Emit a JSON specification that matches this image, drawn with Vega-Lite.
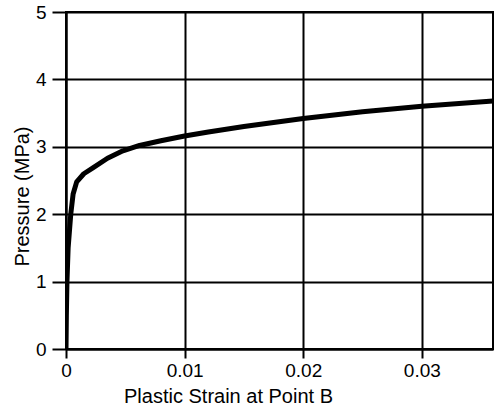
{
  "$schema": "https://vega.github.io/schema/vega-lite/v6.json",
  "width": 427,
  "height": 337,
  "autosize": "none",
  "padding": {"left": 66, "top": 12, "right": 1, "bottom": 63},
  "background": "white",
  "config": {
    "view": {"stroke": "black", "strokeWidth": 2},
    "font": "Liberation Sans"
  },
  "data": {
    "values": [
      {"strain": 0, "pressure": 0},
      {"strain": 0.00003, "pressure": 0.5},
      {"strain": 0.00008, "pressure": 1.0},
      {"strain": 0.00018, "pressure": 1.5},
      {"strain": 0.0004, "pressure": 2.0},
      {"strain": 0.0006, "pressure": 2.3},
      {"strain": 0.0009, "pressure": 2.48},
      {"strain": 0.0015, "pressure": 2.6},
      {"strain": 0.0023, "pressure": 2.69},
      {"strain": 0.0035, "pressure": 2.83},
      {"strain": 0.0048, "pressure": 2.94},
      {"strain": 0.0062, "pressure": 3.02},
      {"strain": 0.008, "pressure": 3.09},
      {"strain": 0.01, "pressure": 3.16},
      {"strain": 0.012, "pressure": 3.22},
      {"strain": 0.015, "pressure": 3.3},
      {"strain": 0.02, "pressure": 3.42},
      {"strain": 0.025, "pressure": 3.52},
      {"strain": 0.03, "pressure": 3.6},
      {"strain": 0.036, "pressure": 3.68}
    ]
  },
  "mark": {"type": "line", "color": "black", "strokeWidth": 5, "strokeJoin": "round", "strokeCap": "butt", "clip": true},
  "encoding": {
    "x": {
      "field": "strain",
      "type": "quantitative",
      "scale": {"domain": [0, 0.036], "nice": false, "zero": false},
      "axis": {
        "title": "Plastic Strain at Point B",
        "values": [0, 0.01, 0.02, 0.03],
        "format": ".2~f",
        "grid": true,
        "gridColor": "black",
        "gridWidth": 2,
        "gridOpacity": 1,
        "domainColor": "black",
        "domainWidth": 2,
        "tickColor": "black",
        "tickWidth": 2,
        "tickSize": 9,
        "labelFontSize": 19,
        "labelColor": "black",
        "labelPadding": 3,
        "labelFlush": false,
        "titleFontSize": 20,
        "titleFontWeight": "normal",
        "titleColor": "black",
        "titleBaseline": "alphabetic",
        "titleX": 162,
        "titleY": 53
      }
    },
    "y": {
      "field": "pressure",
      "type": "quantitative",
      "scale": {"domain": [0, 5], "nice": false},
      "axis": {
        "title": "Pressure (MPa)",
        "values": [0, 1, 2, 3, 4, 5],
        "grid": true,
        "gridColor": "black",
        "gridWidth": 2,
        "gridOpacity": 1,
        "domainColor": "black",
        "domainWidth": 2,
        "tickColor": "black",
        "tickWidth": 2,
        "tickSize": 14,
        "labelFontSize": 19,
        "labelColor": "black",
        "labelPadding": 6,
        "labelFlush": false,
        "titleFontSize": 20,
        "titleFontWeight": "normal",
        "titleColor": "black",
        "titleAngle": -90,
        "titleBaseline": "alphabetic",
        "titleAlign": "center",
        "titleX": -38,
        "titleY": 184
      }
    }
  }
}
